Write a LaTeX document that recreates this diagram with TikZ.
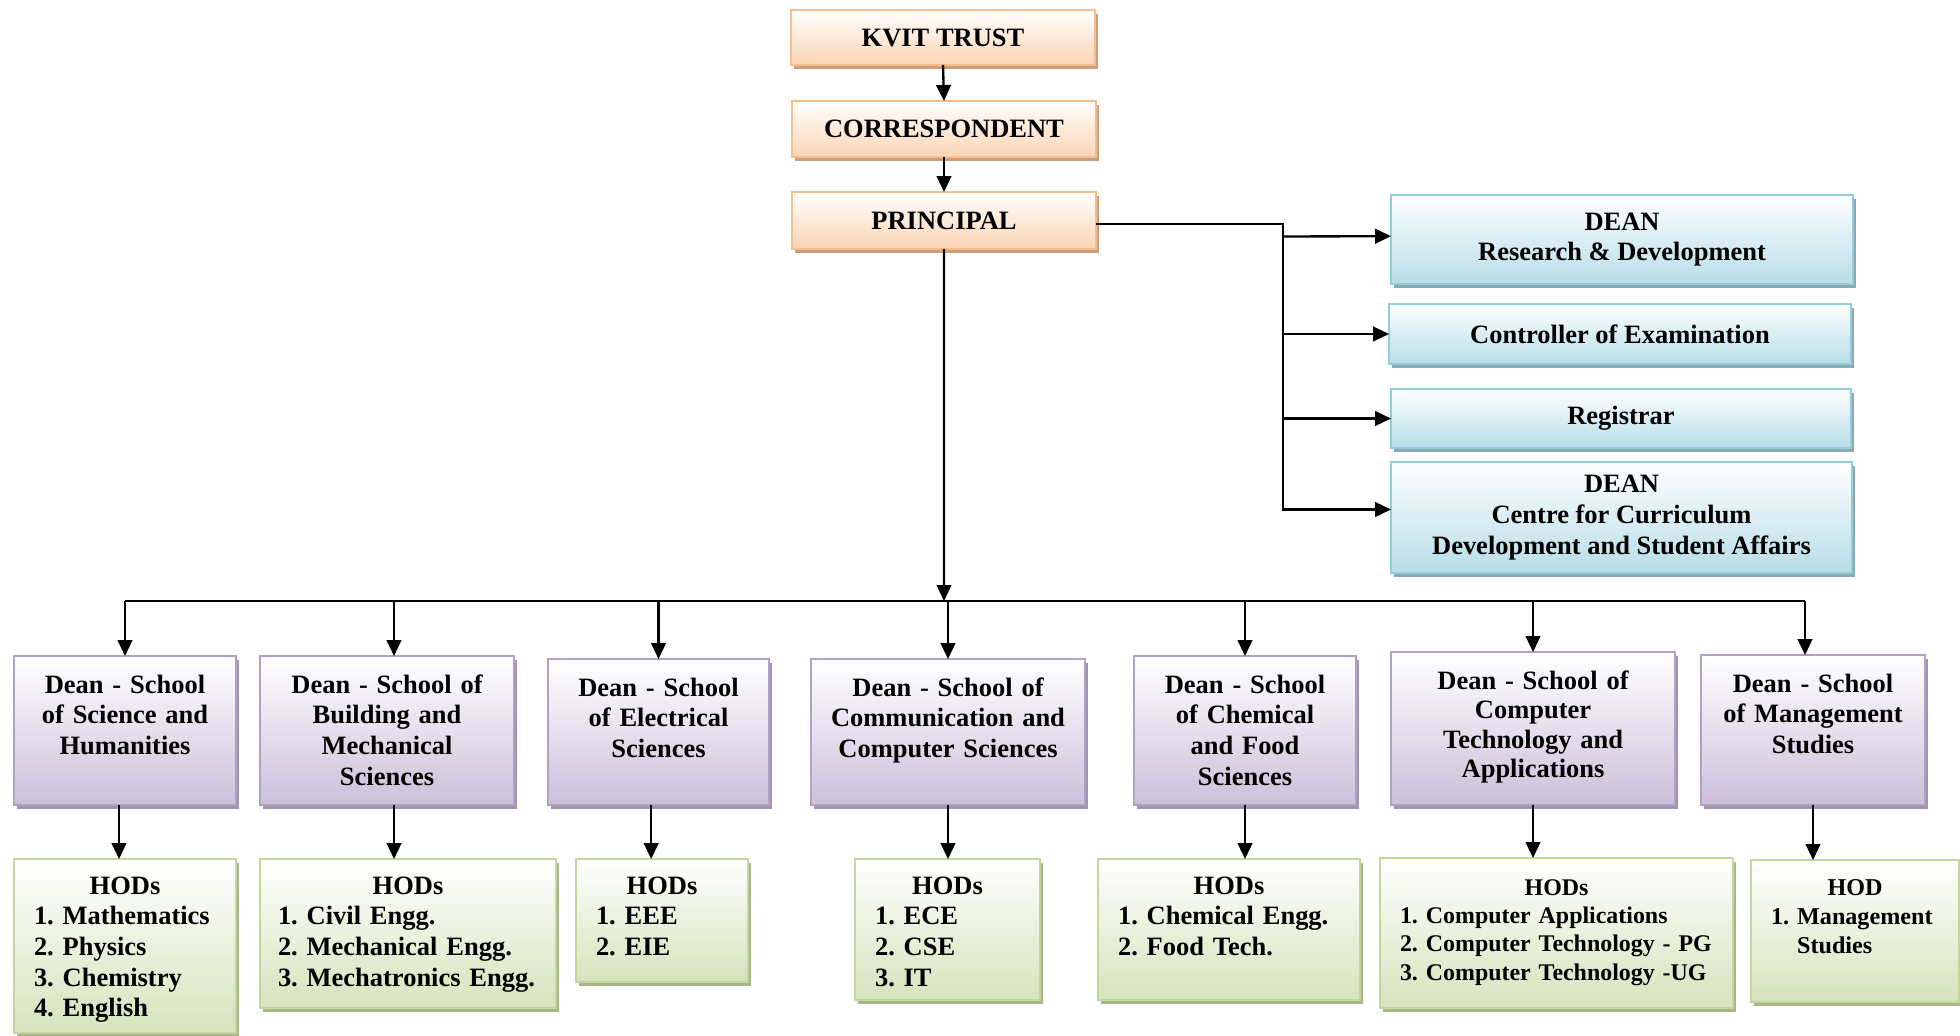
\documentclass[tikz,border=0pt]{standalone}
\usepackage{fontspec}
\setmainfont{Liberation Serif}
\usetikzlibrary{arrows.meta,shadows}

\definecolor{orgline}{RGB}{247,189,143}
\definecolor{orgfill}{RGB}{251,212,180}
\definecolor{orgshade}{RGB}{200,160,128}
\definecolor{bluline}{RGB}{146,205,221}
\definecolor{blufill}{RGB}{183,221,232}
\definecolor{blushade}{RGB}{140,168,178}
\definecolor{purline}{RGB}{178,161,199}
\definecolor{purfill}{RGB}{204,192,218}
\definecolor{purshade}{RGB}{160,148,176}
\definecolor{grnline}{RGB}{195,214,155}
\definecolor{grnfill}{RGB}{214,227,188}
\definecolor{grnshade}{RGB}{168,182,140}

\begin{document}
\begin{tikzpicture}[x=0.015cm, y=-0.015cm, inner sep=0pt, outer sep=0pt,
    every node/.style={font=\bfseries\frenchspacing\fontsize{11.3}{13.1}\selectfont},
    box/.style={draw, line width=0.9pt, anchor=north west},
    trustbox/.style={box, draw=orgline, top color=white, bottom color=orgfill,
      drop shadow={shadow xshift=0.045cm, shadow yshift=-0.06cm, fill=orgshade, opacity=1},
      minimum width=4.56cm},
    bluebox/.style={box, draw=bluline, top color=white, bottom color=blufill,
      drop shadow={shadow xshift=0.045cm, shadow yshift=-0.06cm, fill=blushade, opacity=1},
      align=center},
    deanbox/.style={box, draw=purline, top color=white, bottom color=purfill,
      drop shadow={shadow xshift=0.045cm, shadow yshift=-0.06cm, fill=purshade, opacity=1},
      align=center, inner xsep=0.06cm, text height=0.555cm},
    hodbox/.style={box, draw=grnline, top color=white, bottom color=grnfill,
      drop shadow={shadow xshift=0.045cm, shadow yshift=-0.06cm, fill=grnshade, opacity=1},
      align=left, inner xsep=0.3cm, text height=0.525cm},
    line/.style={line width=1pt},
    arr/.style={line, -{Triangle[length=0.24cm, width=0.22cm]}}]
    \useasboundingbox (0,0) rectangle (1960,1035);

    % management chain
    \node[trustbox, minimum height=0.825cm] (trust) at (791,10) {KVIT TRUST};
    \node[trustbox, minimum height=0.84cm] (corr) at (792,101) {CORRESPONDENT};
    \node[trustbox, minimum height=0.855cm] (principal) at (792,192) {PRINCIPAL};

    % offices under the principal
    \node[bluebox, minimum width=6.93cm, minimum height=1.335cm] (rd) at (1391,195)
    {DEAN\\Research \& Development};
    \node[bluebox, minimum width=6.93cm, minimum height=0.9cm] (coe) at (1389,304)
    {Controller of Examination};
    \node[bluebox, minimum width=6.9cm, minimum height=0.885cm] (reg) at (1391,389)
    {Registrar};
    \node[bluebox, minimum width=6.915cm, minimum height=1.665cm] (ccd) at (1391,462)
    {DEAN\\Centre for Curriculum\\Development and Student Affairs};

    % school deans
    \node[deanbox, text width=3.21cm, text depth=1.68cm] (dean1) at (14,656)
    {Dean - School\\of Science and\\Humanities};
    \node[deanbox, text width=3.69cm, text depth=1.68cm] (dean2) at (260,656)
    {Dean - School of\\Building and\\Mechanical\\Sciences};
    \node[deanbox, text width=3.195cm, text depth=1.635cm] (dean3) at (548,659)
    {Dean - School\\of Electrical\\Sciences};
    \node[deanbox, text width=3.99cm, text depth=1.635cm] (dean4) at (811,659)
    {Dean - School of\\Communication and\\Computer Sciences};
    \node[deanbox, text width=3.21cm, text depth=1.68cm] (dean5) at (1134,656)
    {Dean - School\\of Chemical\\and Food\\Sciences};
    \node[deanbox, text width=4.14cm, text depth=1.74cm,
      font=\bfseries\frenchspacing\fontsize{11.3}{12.6}\selectfont] (dean6) at (1391,652)
    {Dean - School of\\Computer\\Technology and\\Applications};
    \node[deanbox, text width=3.24cm, text depth=1.695cm] (dean7) at (1701,655)
    {Dean - School\\of Management\\Studies};

    % heads of departments
    \node[hodbox, text width=2.73cm, text depth=2.085cm] (hod1) at (14,859)
    {\makebox[\linewidth]{HODs}\\1. Mathematics\\2. Physics\\3. Chemistry\\4. English};
    \node[hodbox, inner xsep=0.27cm, text width=3.9cm, text depth=1.71cm] (hod2) at (260,859)
    {\makebox[\linewidth]{HODs}\\1. Civil Engg.\\2. Mechanical Engg.\\3. Mechatronics Engg.};
    \node[hodbox, text width=1.98cm, text depth=1.32cm] (hod3) at (576,859)
    {\makebox[\linewidth]{HODs}\\1. EEE\\2. EIE};
    \node[hodbox, text width=2.175cm, text depth=1.59cm] (hod4) at (855,859)
    {\makebox[\linewidth]{HODs}\\1. ECE\\2. CSE\\3. IT};
    \node[hodbox, text width=3.33cm, text depth=1.59cm] (hod5) at (1098,859)
    {\makebox[\linewidth]{HODs}\\1. Chemical Engg.\\2. Food Tech.};
    \node[hodbox, text width=4.695cm, text height=0.555cm, text depth=1.695cm,
      font=\bfseries\frenchspacing\fontsize{10.2}{12.1}\selectfont] (hod6) at (1380,858)
    {\makebox[\linewidth]{HODs}\\1. Computer Applications\\2. Computer Technology - PG\\3. Computer Technology -UG};
    \node[hodbox, text width=2.52cm, text depth=1.605cm,
      font=\bfseries\frenchspacing\fontsize{10.3}{12.4}\selectfont] (hod7) at (1751,860)
    {\makebox[\linewidth]{HOD}\\1. Management\\\phantom{1. }Studies};

    % connectors
    \coordinate (spine) at (1283,224);
    \coordinate (bus) at (944,601);
    \draw[arr] (trust.south) -- (corr.north);
    \draw[arr] (corr.south) -- (principal.north);
    \draw[arr] (principal.east |- spine) -- (spine) |- ([yshift=0.12cm]ccd.west);
    \draw[arr] (spine |- rd.west) ++(0,-3) -- ([yshift=0.05cm]rd.west);
    \draw[arr] (spine |- coe.west) -- (coe.west);
    \draw[arr] (spine |- reg.west) -- (reg.west);
    \draw[arr] (principal.south) -- (bus);
    \draw[line] (bus -| dean1.north) -- ([xshift=-0.12cm]bus -| dean7.north);
    \draw[arr] (bus -| dean1.north) -- (dean1.north);
    \draw[arr] ([xshift=0.105cm]dean2.north |- bus) -- ([xshift=0.105cm]dean2.north);
    \draw[arr] (bus -| dean3.north) -- (dean3.north);
    \draw[arr] (bus -| dean4.north) -- (dean4.north);
    \draw[arr] (bus -| dean5.north) -- (dean5.north);
    \draw[arr] (bus -| dean6.north) -- (dean6.north);
    \draw[arr] ([xshift=-0.12cm]dean7.north |- bus) -- ([xshift=-0.12cm]dean7.north);
    \draw[arr] ([xshift=-0.09cm]dean1.south) -- ([xshift=-0.09cm]dean1.south |- hod1.north);
    \draw[arr] ([xshift=0.105cm]dean2.south) -- ([xshift=0.105cm]dean2.south |- hod2.north);
    \draw[arr] ([xshift=-0.11cm]dean3.south) -- ([xshift=-0.11cm]dean3.south |- hod3.north);
    \draw[arr] (dean4.south) -- (dean4.south |- hod4.north);
    \draw[arr] (dean5.south) -- (dean5.south |- hod5.north);
    \draw[arr] (dean6.south) -- (dean6.south |- hod6.north);
    \draw[arr] (dean7.south) -- (dean7.south |- hod7.north);
\end{tikzpicture}
\end{document}
